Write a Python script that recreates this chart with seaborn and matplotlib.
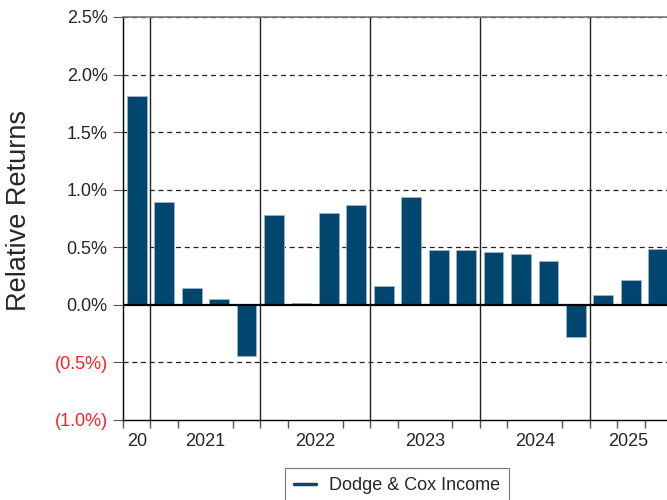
import matplotlib
matplotlib.use("Agg")
import matplotlib.pyplot as plt
from matplotlib.lines import Line2D
import seaborn as sns
import pandas as pd

# quarterly relative returns (%)
quarters = ["Q4 2020",
            "Q1 2021", "Q2 2021", "Q3 2021", "Q4 2021",
            "Q1 2022", "Q2 2022", "Q3 2022", "Q4 2022",
            "Q1 2023", "Q2 2023", "Q3 2023", "Q4 2023",
            "Q1 2024", "Q2 2024", "Q3 2024", "Q4 2024",
            "Q1 2025", "Q2 2025", "Q3 2025"]
returns = [1.81,
           0.89, 0.15, 0.05, -0.44,
           0.78, 0.012, 0.80, 0.87,
           0.16, 0.94, 0.48, 0.475,
           0.46, 0.44, 0.38, -0.275,
           0.087, 0.215, 0.484]
year_labels = ["20", "2021", "2022", "2023", "2024", "2025"]
y_ticks = [-1.0, -0.5, 0.0, 0.5, 1.0, 1.5, 2.0, 2.5]
series_name = "Dodge & Cox Income"

bar_color = "#00466e"

sns.set_style("white")
plt.rcParams["font.family"] = ["Liberation Sans", "DejaVu Sans"]

df = pd.DataFrame({"quarter": quarters, "ret": returns})

fig = plt.figure(figsize=(6.67, 5), dpi=100)
ax = fig.add_axes([123 / 667, 80 / 500, 549 / 667, 403 / 500])

sns.barplot(data=df, x="quarter", y="ret", color=bar_color, width=0.72,
            edgecolor="#9fb6c6", linewidth=0.6, saturation=1, ax=ax, zorder=3)

n = len(quarters)
ax.set_xlim(-0.5, n - 0.5)
ax.set_ylim(-1.0, 2.5)

# y axis
ax.set_yticks(y_ticks)
ylabels = []
for v in y_ticks:
    if v < 0:
        ylabels.append(f"({abs(v):.1f}%)")
    else:
        ylabels.append(f"{v:.1f}%")
ax.set_yticklabels(ylabels, fontsize=13)
for lbl, v in zip(ax.get_yticklabels(), y_ticks):
    if v < 0:
        lbl.set_color("#ff2020")
ax.tick_params(axis="y", length=7, width=0.8, color="#555555", pad=4, left=True)
ax.set_ylabel("Relative Returns", fontsize=19.5)
ax.yaxis.set_label_coords(-0.166, 0.52)

for v in y_ticks:
    if v in (0.0, -1.0):
        continue
    ax.axhline(v, color="#222222", lw=0.9, ls=(0, (4, 3)), zorder=1)
ax.axhline(0, color="black", lw=1.6, zorder=4)

# x axis: quarter boundary ticks, year labels centred on visible ranges
years = [q.split()[1] for q in quarters]
bounds = [i - 0.5 for i in range(n + 1)]
ax.set_xticks(bounds, minor=True)
ax.tick_params(axis="x", which="minor", length=6, width=1, color="#555555", bottom=True)

centers = []
start = 0
for i in range(1, n + 1):
    if i == n or years[i] != years[start]:
        lo = start - 0.5
        hi = min(i - 0.5, n - 0.5 - 0.2)
        centers.append((lo + hi) / 2)
        if i < n:
            ax.axvline(i - 0.5, color="#222222", lw=1.0, zorder=2)
        start = i
ax.set_xticks(centers[:len(year_labels)])
ax.set_xticklabels(year_labels, fontsize=13)
ax.tick_params(axis="x", which="major", length=0, pad=9)
ax.set_xlabel("")

for side in ["left", "bottom"]:
    ax.spines[side].set_visible(True)
    ax.spines[side].set_color("black")
    ax.spines[side].set_linewidth(1.0)
ax.spines["top"].set_color("#777777")
ax.spines["top"].set_linewidth(1.2)
ax.spines["right"].set_visible(False)

handle = Line2D([], [], color=bar_color, lw=2.5)
leg = fig.legend([handle], [series_name], loc="upper center",
                 bbox_to_anchor=(397 / 667, 32 / 500), fontsize=13,
                 frameon=True, fancybox=False, edgecolor="#555555",
                 handlelength=1.2, handletextpad=0.7, borderpad=0.5,
                 borderaxespad=0)
leg.get_frame().set_linewidth(0.8)

fig.savefig("out.png", dpi=100)
